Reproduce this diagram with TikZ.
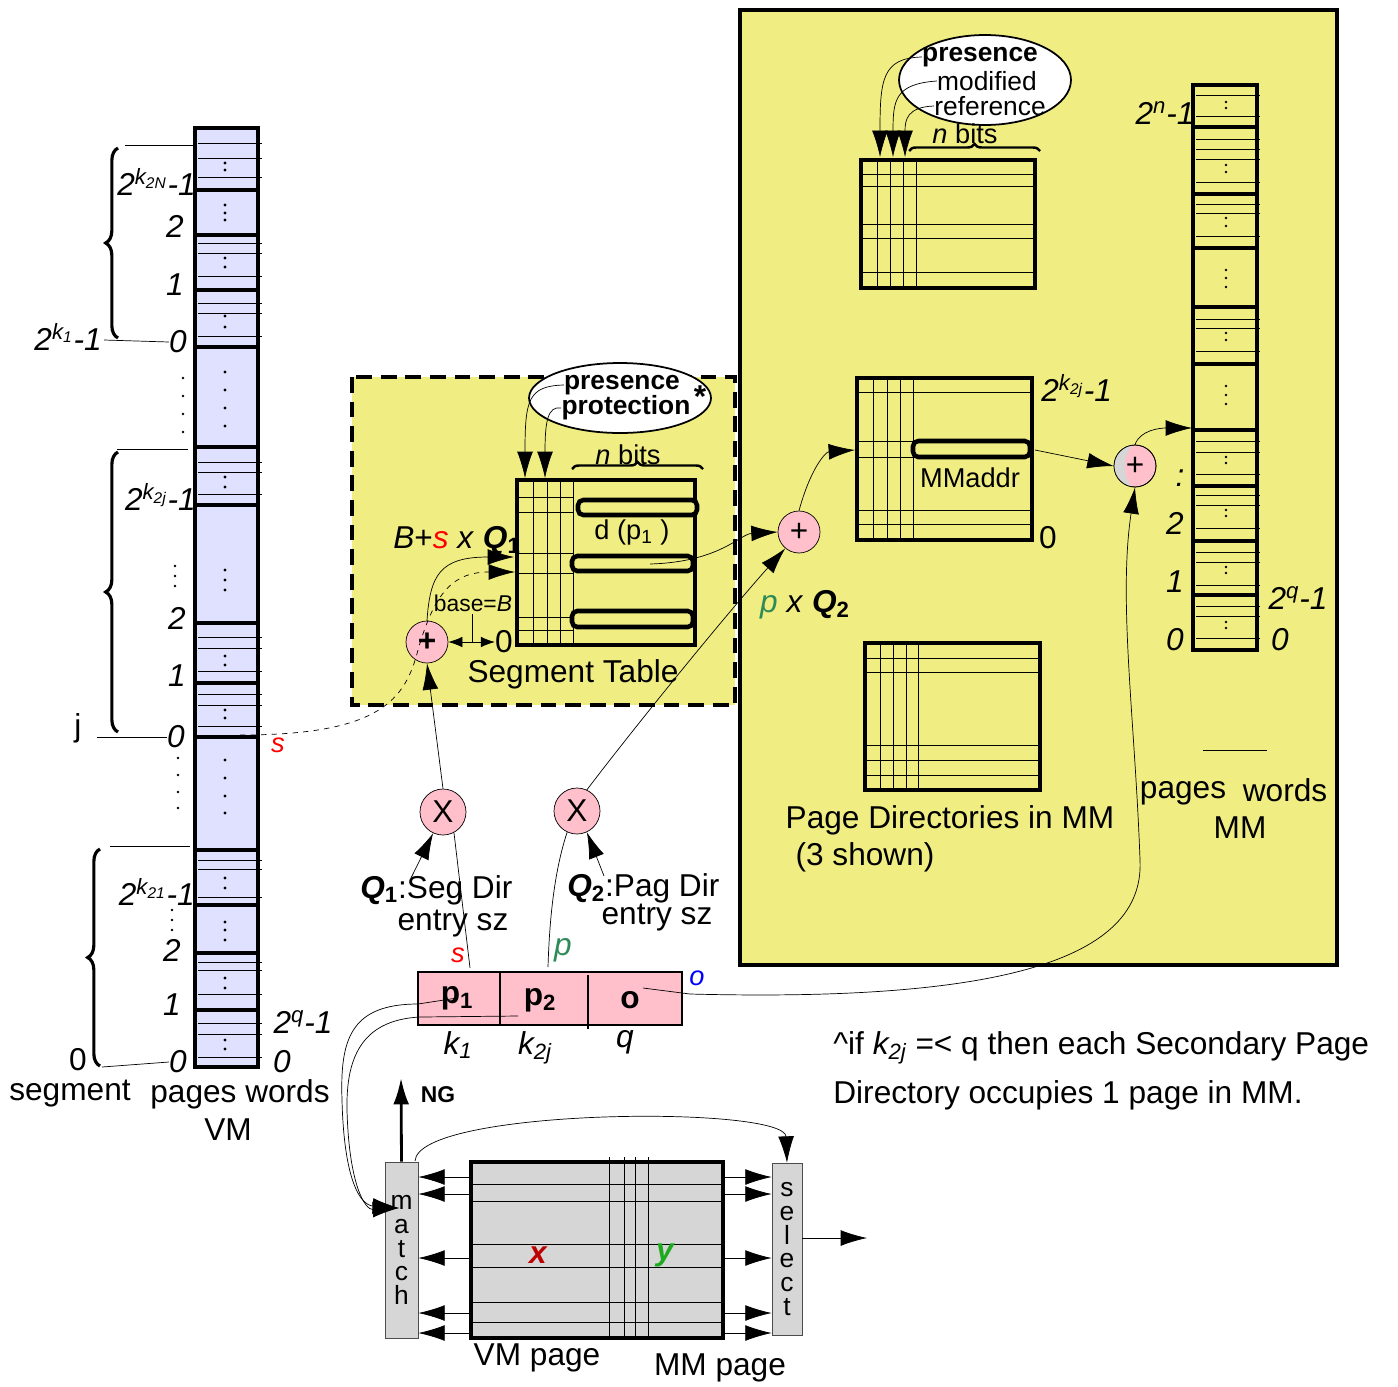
\documentclass[tikz,border=0pt]{standalone}
\usepackage{fontspec}
\setmainfont{Liberation Sans}
\usetikzlibrary{arrows.meta,decorations.pathreplacing,shapes.geometric}

\definecolor{boxyellow}{RGB}{240,238,130}
\definecolor{vmblue}{RGB}{224,224,255}
\definecolor{oppink}{RGB}{255,192,203}
\definecolor{tlbgrey}{RGB}{214,214,214}
\definecolor{pgreen}{RGB}{46,139,87}
\definecolor{ygreen}{RGB}{30,170,30}
\definecolor{xred}{RGB}{190,0,0}

\newcommand{\fbig}{\fontsize{18}{18}\selectfont}
\newcommand{\fmid}{\fontsize{15.5}{15.5}\selectfont}
\newcommand{\fsml}{\fontsize{13}{13}\selectfont}

\begin{document}
\begin{tikzpicture}[x=0.02cm,y=-0.02cm,>={Latex[length=15pt,width=9pt]},
  thickbox/.style={line width=2.6pt},
  thinline/.style={line width=0.5pt},
  entrybar/.style={line width=2.6pt,rounded corners=3pt,fill=boxyellow},
  opcirc/.style={circle,draw,fill=oppink,minimum size=0.84cm,inner sep=0pt,font=\fbig},
  mulcirc/.style={circle,draw,fill=oppink,minimum size=0.92cm,inner sep=0pt,font=\fbig},
  bitsoval/.style={ellipse,draw,fill=white,line width=1pt,inner sep=0pt},
  txt/.style={font=\fbig,inner sep=0pt},
  lbl/.style={font=\fbig\itshape,inner sep=0pt},
  midtxt/.style={font=\fmid,inner sep=0pt},
  ovaltxt/.style={font=\fontsize{15}{15}\selectfont,inner sep=0pt},
  vertbox/.style={draw=black!70,fill=tlbgrey,inner sep=0pt,align=center,font=\fontsize{15}{13.5}\selectfont},
  bitbrace/.style={decorate,decoration={brace,amplitude=4pt},line width=1.4pt},
  segbrace/.style={decorate,decoration={brace,amplitude=7pt},line width=1.8pt}]
\useasboundingbox (0,0) rectangle (1398,1386);

% yellow areas
\draw[line width=2.4pt,fill=boxyellow] (740,10) rectangle (1337,965);
\draw[line width=2.4pt,dash pattern=on 9pt off 5pt,fill=boxyellow] (352,377) rectangle (735,705);

% VM column
\fill[vmblue] (195,128) rectangle (258,1067);
\draw[thinline] foreach \y in {143,158,177,243,253,276,303,313,336,462,472,494,637,648,671,694,705,726,860,869,897,962,970,994,1023,1034,1057} {(198,\y) -- (262,\y)};
\draw[thickbox] foreach \y in {190,235,290,347,447,505,623,683,737,850,905,953,1010} {(195,\y) -- (258,\y)};
\draw[line width=2.8pt] (195,128) rectangle (258,1067);
\foreach \y in {163,170,205,213,220,258,267,316,327,372,390,408,426,477,487,570,580,590,656,665,710,718,760,778,796,813,878,888,922,930,940,978,988,1040,1049}
  \fill (225,\y) circle (1.6);

% VM labels and braces
\draw (125,145) -- (195,145);
\draw[segbrace] (118,338) -- (118,148);
\node[lbl,anchor=east] (vmtopN) at (196,182) {2\textsuperscript{k\textsubscript{2N}}-1};
\node[lbl] (vmtop2) at (175,226) {2};
\node[lbl] (vmtop1) at (175,285) {1};
\node[lbl] (vmtop0) at (178,342) {0};
\node[lbl,anchor=east] (vmkone) at (102,337) {2\textsuperscript{k\textsubscript{1}}-1};
\draw (vmkone.east) ++(2,3) -- (vmtop0.west);
\foreach \y in {378,396,414,432} \fill (183,\y) circle (1.4);
\draw (117,449) -- (188,449);
\draw[segbrace] (118,732) -- (118,452);
\node[lbl,anchor=east] (vmmidN) at (196,497) {2\textsuperscript{k\textsubscript{2j}}-1};
\foreach \y in {566,576,586} \fill (175,\y) circle (1.4);
\node[lbl] (vmmid2) at (177,618) {2};
\node[lbl] (vmmid1) at (177,676) {1};
\node[lbl] (vmmid0) at (176,737) {0};
\node[txt] (vmj) at (78,728) {j};
\draw (97,737) -- (vmmid0.west);
\foreach \y in {758,775,792,808} \fill (178,\y) circle (1.4);
\draw (110,846) -- (190,846);
\draw[segbrace] (100,1066) -- (100,849);
\node[lbl,anchor=east] (vmlowN) at (195,892) {2\textsuperscript{k\textsubscript{21}}-1};
\foreach \y in {910,920,930} \fill (172,\y) circle (1.4);
\node[lbl] (vmlow2) at (172,950) {2};
\node[lbl] (vmlow1) at (172,1005) {1};
\node[lbl] (vmlow0) at (178,1062) {0};
\node[txt] (vmseg0) at (78,1060) {0};
\draw (102,1067) -- (vmlow0.west);
\node[lbl] (vmwordq) at (303,1022) {2\textsuperscript{q}-1};
\node[lbl] (vmword0) at (282,1062) {0};
\node[txt] (vmsegment) at (70,1094) {segment};
\node[txt] (vmpages) at (240,1094) {pages words};
\node[txt] (vmname) at (228,1130) {VM};

% segment table
\draw[thinline] foreach \x in {533,547,560,573} {(\x,480) -- (\x,645)};
\draw[thinline] foreach \y in {497,512,553,573,617,630} {(517,\y) -- (573,\y)};
\draw[thickbox] (517,480) rectangle (695,645);
\draw[entrybar] (578,500) rectangle (697,515);
\draw[entrybar] (572,556) rectangle (693,571);
\draw[entrybar] (572,611) rectangle (693,627);
\node[midtxt] (segdp) at (632,532) {d (p\textsubscript{1} )};
\node[txt] (segname) at (573,674) {Segment Table};
\node[midtxt] (segnbits) at (628,455) {\textit{n} bits};
\draw[bitbrace] (572,469) -- (703,469);
\node[bitsoval,minimum width=3.64cm,minimum height=1.4cm] (segoval) at (620,398) {};
\node[ovaltxt,font=\fontsize{15}{15}\selectfont\bfseries] (segpres) at (622,385) {presence};
\node[ovaltxt,font=\fontsize{15}{15}\selectfont\bfseries] (segprot) at (626,408) {protection};
\node[midtxt,font=\fbig\bfseries] (segstar) at (700,397) {*};
\draw[->] (segpres.west) .. controls (528,386) and (525,400) .. (525,478);
\draw[->] (segprot.west) .. controls (548,406) and (545,420) .. (545,478);

% segment table addressing
\node[opcirc,font=\fbig\bfseries] (plusA) at (427,642) {+};
\node[txt] (segbase) at (457,541) {\textit{B}+\textcolor{red}{\textit{s}} \textit{x} \textbf{\textit{Q}\textsubscript{1}}};
\node[inner sep=0pt,font=\fsml] (basetxt) at (473,603) {base=\textit{B}};
\node[txt] (segzero) at (504,642) {0};
\draw (472,614) -- (472,642);
\draw[{Latex[length=8pt,width=6pt]}-{Latex[length=8pt,width=6pt]}] (plusA.east) -- (segzero.west);
\coordinate (segin) at (514,557);
\coordinate (segdash) at (515,572);
\coordinate (vmsrc) at (240,735);
\draw[->] (plusA.north) .. controls (430,575) and (440,557) .. (segin);
\draw[->,dashed] (vmsrc) .. controls (380,735) and (405,700) .. (418,650) .. controls (435,590) and (455,572) .. (segdash);
\node[lbl,text=red,font=\fmid\itshape] (vms) at (278,745) {s};

% multipliers
\node[mulcirc] (mulA) at (443,812) {X};
\node[mulcirc] (mulB) at (577,811) {X};
\node[txt,anchor=west] (qone) at (360,890) {\textbf{\textit{Q}\textsubscript{1}}:Seg Dir};
\node[txt] (qoneb) at (453,924) {entry sz};
\node[txt,anchor=west] (qtwo) at (567,888) {\textbf{\textit{Q}\textsubscript{2}}:Pag Dir};
\node[txt] (qtwob) at (657,918) {entry sz};
\draw[->] (mulA.north) -- (plusA.south);
\draw[->] (411,878) -- (mulA.245);
\draw[->] (604,876) -- (mulB.295);
\node[opcirc] (plusB) at (799,532) {+};
\node[txt] (pqtwo) at (805,605) {\textcolor{pgreen}{\textit{p}} \textit{x} \textbf{\textit{Q}\textsubscript{2}}};
\draw[->] (mulB.65) .. controls (640,720) and (730,610) .. (plusB.230);
\coordinate (segout) at (650,564);
\draw[->] (segout) .. controls (720,562) and (740,534) .. (plusB.west);

% virtual address register
\draw[line width=1pt,fill=oppink] (418,972) rectangle (682,1025);
\draw[line width=1pt] (500,972) -- (500,1025);
\draw[line width=1pt] (588,975) -- (588,1029);
\node[txt,font=\fbig\bfseries] (pone) at (457,998) {p\textsubscript{1}};
\node[txt,font=\fbig\bfseries] (ptwo) at (540,1000) {p\textsubscript{2}};
\node[txt,font=\fbig\bfseries] (ofs) at (630,1000) {o};
\node[lbl] (kone) at (458,1045) {k\textsubscript{1}};
\node[lbl] (ktwo) at (535,1048) {k\textsubscript{2j}};
\node[lbl] (qlen) at (625,1042) {q};
\node[lbl,text=red,font=\fmid\itshape] (sfield) at (458,955) {s};
\node[lbl,text=pgreen] (pfield) at (563,950) {p};
\node[lbl,text=blue,font=\fmid\itshape] (ofield) at (697,978) {o};
\draw (470,968) -- (mulA.298);
\draw (548,967) .. controls (550,900) and (558,860) .. (mulB.245);

% page directories
\draw[thinline] foreach \x in {877,890,903,916} {(\x,160) -- (\x,288)};
\draw[thinline] foreach \y in {174,186,224,238,272} {(861,\y) -- (1035,\y)};
\draw[thickbox] (861,160) rectangle (1035,288);
\node[bitsoval,minimum width=3.44cm,minimum height=1.8cm] (pdoval) at (985,80) {};
\node[ovaltxt,font=\fontsize{15}{15}\selectfont\bfseries] (pdpres) at (980,57) {presence};
\node[ovaltxt] (pdmod) at (987,81) {modified};
\node[ovaltxt] (pdref) at (990,106) {reference};
\draw[->] (pdpres.west) .. controls (882,58) and (880,80) .. (880,157);
\draw[->] (pdmod.west) .. controls (895,84) and (893,100) .. (893,157);
\draw[->] (pdref.west) .. controls (907,107) and (905,120) .. (905,157);
\node[midtxt] (pdnbits) at (965,134) {\textit{n} bits};
\draw[bitbrace] (909,151) -- (1040,151);

\draw[thinline] foreach \x in {873,887,900,913} {(\x,378) -- (\x,540)};
\draw[thinline] foreach \y in {392,510,524} {(857,\y) -- (1032,\y)};
\draw[thinline] foreach \y in {441,457} {(857,\y) -- (913,\y)};
\draw[thickbox] (857,378) rectangle (1032,540);
\draw[entrybar] (913,441) rectangle (1030,457);
\node[midtxt] (mmaddr) at (970,478) {MMaddr};
\node[lbl,anchor=west] (pdtop) at (1041,388) {2\textsuperscript{k\textsubscript{2j}}-1};
\node[txt] (pdzero) at (1048,538) {0};
\coordinate (pdin) at (855,450);
\coordinate (pdout) at (1035,450);
\draw[->] (plusB.north) .. controls (810,470) and (825,452) .. (pdin);

\draw[thinline] foreach \x in {880,893,906,918} {(\x,643) -- (\x,790)};
\draw[thinline] foreach \y in {658,672,745,760,775} {(865,\y) -- (1040,\y)};
\draw[thickbox] (865,643) rectangle (1040,790);
\node[txt] (pdname) at (950,820) {Page Directories in MM};
\node[txt] (pdshown) at (865,857) {(3 shown)};

% MM column
\draw[thinline] foreach \y in {95,116,139,149,159,182,204,213,236,319,328,351,441,452,474,495,505,528,552,562,585,606,616,638} {(1196,\y) -- (1260,\y)};
\draw[thickbox] foreach \y in {127,194,248,307,364,430,486,541,595} {(1193,\y) -- (1257,\y)};
\draw[line width=2.8pt] (1193,85) rectangle (1257,650);
\foreach \y in {102,108,165,172,218,226,270,278,287,333,340,386,395,404,457,463,510,516,567,573,622,628}
  \fill (1226,\y) circle (1.4);
\node[lbl] (mmtop) at (1165,113) {2\textsuperscript{n}-1};
\node[lbl] (mmdots) at (1180,478) {:};
\node[lbl] (mm2) at (1175,523) {2};
\node[lbl] (mm1) at (1175,582) {1};
\node[lbl] (mm0) at (1175,640) {0};
\node[lbl] (mmq) at (1298,598) {2\textsuperscript{q}-1};
\node[lbl] (mmw0) at (1280,640) {0};
\draw (1203,750) -- (1267,750);
\node[txt] (mmpages) at (1183,793) {pages};
\node[txt] (mmwords) at (1285,790) {words};
\node[txt] (mmname) at (1240,828) {MM};

% main memory adder
\node[opcirc] (plusC) at (1135,466) {};
\begin{scope}
  \clip (plusC.center) circle (21);
  \fill[tlbgrey] (1110,440) -- (1133,444) .. controls (1122,458) and (1122,474) .. (1133,489) -- (1110,490) -- cycle;
\end{scope}
\draw (plusC.center) circle (21);
\node[txt] (plusCsign) at (plusC) {+};
\coordinate (mmin) at (1192,428);
\draw[->] (pdout) -- (plusC.west);
\draw[->] (plusC.north) .. controls (1140,430) and (1160,428) .. (mmin);
\coordinate (osrc) at (643,988);
\draw[->] (osrc) -- (690,994) .. controls (1000,1002) and (1145,960) .. (1140,860) .. controls (1135,720) and (1118,600) .. (plusC.south);

% associative memory
\node[vertbox,minimum width=0.66cm,minimum height=3.52cm] (match) at (401.5,1250) {m\\a\\t\\c\\h};
\node[vertbox,minimum width=0.6cm,minimum height=3.44cm] (select) at (787,1249) {s\\e\\l\\e\\c\\t};
\draw[fill=tlbgrey,thickbox] (471,1162) rectangle (723,1338);
\draw[thinline] foreach \y in {1184,1201,1244,1267,1302,1322} {(473,\y) -- (721,\y)};
\draw[thinline] foreach \x in {609,624,635,648} {(\x,1157) -- (\x,1338)};
\foreach \y in {1177,1194,1258,1313,1333} {
  \draw[->] (469,\y) -- (match.east |- 0,\y);
  \draw[->] (725,\y) -- (select.west |- 0,\y);
}
\node[lbl,font=\fbig\bfseries\itshape,text=xred] (tlbx) at (538,1255) {x};
\node[lbl,font=\fbig\bfseries\itshape,text=ygreen] (tlby) at (665,1255) {y};
\node[txt] (vmpage) at (537,1358) {VM page};
\node[txt] (mmpage) at (720,1368) {MM page};
\node[inner sep=0pt,font=\fsml\bfseries] (ng) at (438,1095) {NG};
\coordinate (ngend) at (401,1078);
\draw[->,line width=1.6pt] (match.north) -- (ngend);
\draw[->] (415,1161) .. controls (418,1108) and (785,1105) .. (select.north);
\coordinate (selout) at (867,1238);
\draw[->] (select.east |- 0,1238) -- (selout);
\coordinate (matchin) at (399,1208);
\draw[->] (pone.center) -- (418,1004) .. controls (350,1004) and (340,1040) .. (342,1100) .. controls (344,1180) and (360,1205) .. (matchin);
\draw[->] (518,1016) -- (420,1017) .. controls (360,1020) and (346,1060) .. (347,1110) .. controls (349,1185) and (365,1210) .. (matchin);

% note
\node[txt,anchor=west] (note1) at (833,1048) {\textasciicircum if \textit{k\textsubscript{2j}} =< q then each Secondary Page};
\node[txt,anchor=west] (note2) at (833,1095) {Directory occupies 1 page in MM.};
\end{tikzpicture}
\end{document}
